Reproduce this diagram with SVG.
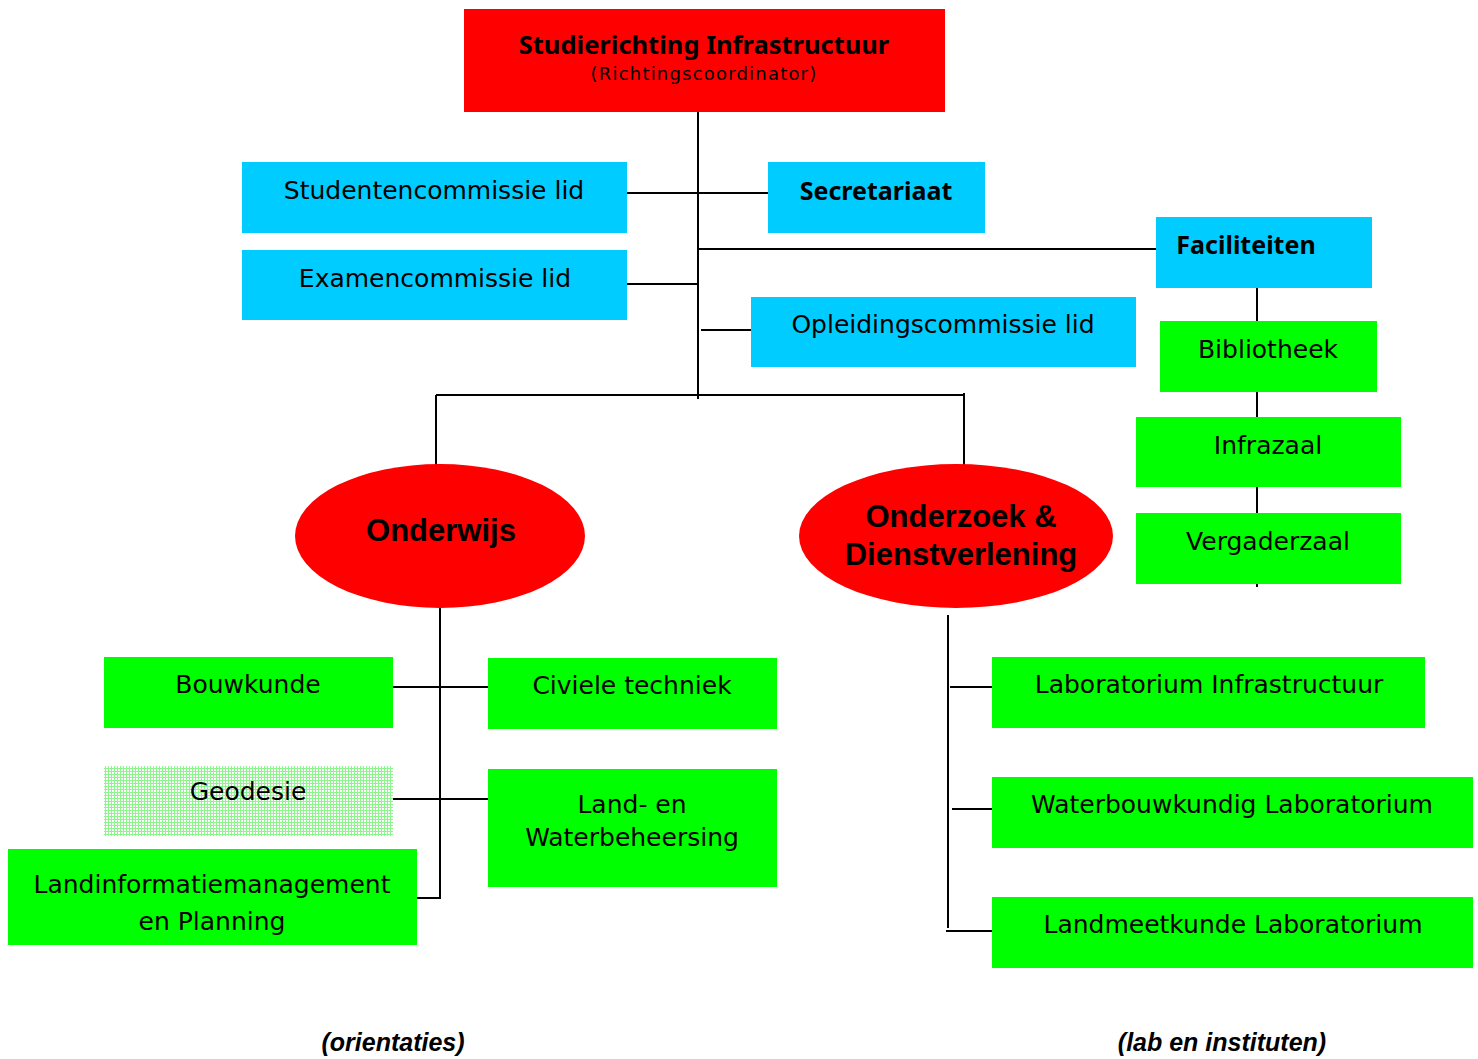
<svg xmlns="http://www.w3.org/2000/svg" width="1478" height="1059" viewBox="0 0 1478 1059">
<style>
.red{fill:#ff0000}
.cyan{fill:#00ccff}
.green{fill:#00ff00}
.t{font-family:"DejaVu Sans",sans-serif;font-size:25px;fill:#000;text-anchor:middle}
.tb{font-family:"Noto Sans","DejaVu Sans",sans-serif;font-size:25px;font-weight:bold;fill:#000;text-anchor:middle}
.ta{font-family:"Liberation Sans",Arial,sans-serif;font-size:31px;font-weight:bold;fill:#000;text-anchor:middle}
.ti{font-family:"Liberation Sans",Arial,sans-serif;font-size:25px;font-weight:bold;font-style:italic;fill:#000;text-anchor:middle}
.c line{stroke:#000;stroke-width:2}
</style>
<defs>
<pattern id="mesh" width="3" height="3" patternUnits="userSpaceOnUse">
<rect width="3" height="3" fill="#ffffff"/>
<rect width="3" height="1" fill="#8cf58c"/>
<rect width="1" height="3" fill="#8cf58c"/>
</pattern>
</defs>
<g class="c">
<line x1="698" y1="112" x2="698" y2="399"/>
<line x1="627" y1="193" x2="768" y2="193"/>
<line x1="698" y1="249" x2="1156" y2="249"/>
<line x1="624" y1="284" x2="697" y2="284"/>
<line x1="701" y1="330" x2="751" y2="330"/>
<line x1="436" y1="395" x2="965" y2="395"/>
<line x1="436" y1="395" x2="436" y2="468"/>
<line x1="964" y1="393" x2="964" y2="466"/>
<line x1="1257" y1="288" x2="1257" y2="587"/>
<line x1="440" y1="606" x2="440" y2="899"/>
<line x1="393" y1="687" x2="488" y2="687"/>
<line x1="392" y1="799" x2="488" y2="799"/>
<line x1="416" y1="898" x2="441" y2="898"/>
<line x1="948" y1="615" x2="948" y2="928"/>
<line x1="950" y1="687" x2="992" y2="687"/>
<line x1="952" y1="809" x2="992" y2="809"/>
<line x1="946" y1="931" x2="995" y2="931"/>
</g>
<g id="top"><rect class="red" x="464" y="9" width="481" height="103"/>
<text class="tb" x="704" y="54" style="font-size:25.5px">Studierichting Infrastructuur</text>
<text class="t" x="704" y="80" style="font-size:18px;letter-spacing:1.2px">(Richtingscoordinator)</text></g>
<g id="studenten"><rect class="cyan" x="242" y="162" width="385" height="71"/><text class="t" x="434" y="199">Studentencommissie lid</text></g>
<g id="examen"><rect class="cyan" x="242" y="250" width="385" height="70"/><text class="t" x="435" y="287">Examencommissie lid</text></g>
<g id="secretariaat"><rect class="cyan" x="768" y="162" width="217" height="71"/><text class="tb" x="876" y="200">Secretariaat</text></g>
<g id="faciliteiten"><rect class="cyan" x="1156" y="217" width="216" height="71"/><text class="tb" x="1246" y="254">Faciliteiten</text></g>
<g id="opleiding"><rect class="cyan" x="751" y="297" width="385" height="70"/><text class="t" x="943" y="333">Opleidingscommissie lid</text></g>
<g id="bibliotheek"><rect class="green" x="1160" y="321" width="217" height="71"/><text class="t" x="1268" y="358">Bibliotheek</text></g>
<g id="infrazaal"><rect class="green" x="1136" y="417" width="265" height="70"/><text class="t" x="1268" y="454">Infrazaal</text></g>
<g id="vergaderzaal"><rect class="green" x="1136" y="513" width="265" height="71"/><text class="t" x="1268" y="550">Vergaderzaal</text></g>
<g id="onderwijs"><ellipse class="red" cx="440" cy="536" rx="145" ry="72"/><text class="ta" x="441" y="541">Onderwijs</text></g>
<g id="onderzoek"><ellipse class="red" cx="956" cy="536" rx="157" ry="72"/><text class="ta" x="961" y="527">Onderzoek &amp;</text><text class="ta" x="961" y="565">Dienstverlening</text></g>
<g id="bouwkunde"><rect class="green" x="104" y="657" width="289" height="71"/><text class="t" x="248" y="693">Bouwkunde</text></g>
<g id="civiele"><rect class="green" x="488" y="658" width="289" height="71"/><text class="t" x="632" y="694">Civiele techniek</text></g>
<g id="geodesie"><rect fill="url(#mesh)" x="104" y="766" width="289" height="70"/><text class="t" x="248" y="800">Geodesie</text></g>
<g id="landwater"><rect class="green" x="488" y="769" width="289" height="118"/><text class="t" x="632" y="813">Land- en</text><text class="t" x="632" y="846">Waterbeheersing</text></g>
<g id="landinfo"><rect class="green" x="8" y="849" width="409" height="96"/><text class="t" x="212" y="893">Landinformatiemanagement</text><text class="t" x="212" y="930">en Planning</text></g>
<g id="labinfra"><rect class="green" x="992" y="657" width="433" height="71"/><text class="t" x="1209" y="693">Laboratorium Infrastructuur</text></g>
<g id="waterbouw"><rect class="green" x="992" y="777" width="481" height="71"/><text class="t" x="1232" y="813">Waterbouwkundig Laboratorium</text></g>
<g id="landmeet"><rect class="green" x="992" y="897" width="481" height="71"/><text class="t" x="1233" y="933">Landmeetkunde Laboratorium</text></g>
<text class="ti" x="393" y="1051">(orientaties)</text>
<text class="ti" x="1222" y="1051">(lab en instituten)</text>
</svg>
